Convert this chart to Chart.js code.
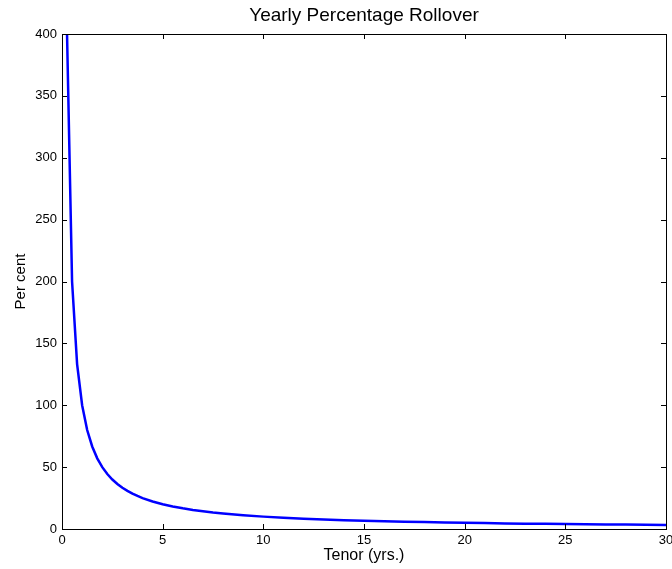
<!DOCTYPE html>
<html>
<head>
<meta charset="utf-8">
<script src="https://cdn.jsdelivr.net/npm/chart.js@4"></script>
<style>
  html, body { margin: 0; padding: 0; background: #fff; }
  #wrap { width: 672px; height: 569px; }
</style>
</head>
<body>
<div id="wrap"><canvas id="chart" width="672" height="569"></canvas></div>
<script>
// Tenor (years) and yearly rollover (per cent)
const tenors = [0.25, 0.5, 0.75, 1, 1.25, 1.5, 1.75, 2, 2.25, 2.5, 2.75, 3, 3.25, 3.5, 3.75, 4,
  4.5, 5, 5.5, 6, 6.5, 7, 7.5, 8, 9, 10, 11, 12, 13, 14, 15, 16, 17, 18, 19, 20,
  21, 22, 23, 24, 25, 26, 27, 28, 29, 30];
const rollover = [400, 200, 133.3, 100, 80, 66.7, 57.1, 50, 44.4, 40, 36.4, 33.3, 30.8, 28.6, 26.7, 25,
  22.2, 20, 18.2, 16.7, 15.4, 14.3, 13.3, 12.5, 11.1, 10, 9.1, 8.3, 7.7, 7.1, 6.7, 6.3, 5.9, 5.6, 5.3, 5,
  4.8, 4.5, 4.3, 4.2, 4, 3.8, 3.7, 3.6, 3.4, 3.3];
const xTicks = [0, 5, 10, 15, 20, 25, 30];
const yTicks = [0, 50, 100, 150, 200, 250, 300, 350, 400];

const FONT = "'Liberation Sans', Arial, Helvetica, sans-serif";

// Box around the plot with MATLAB style inward ticks
const boxPlugin = {
  id: 'box',
  afterDraw(chart) {
    const { ctx, chartArea: a, scales } = chart;
    const len = 5;
    ctx.save();
    ctx.strokeStyle = '#000';
    ctx.lineWidth = 1;
    ctx.beginPath();
    xTicks.forEach(v => {
      const x = Math.round(scales.x.getPixelForValue(v)) + 0.5;
      ctx.moveTo(x, a.bottom); ctx.lineTo(x, a.bottom - len);
      ctx.moveTo(x, a.top); ctx.lineTo(x, a.top + len);
    });
    yTicks.forEach(v => {
      const y = Math.round(scales.y.getPixelForValue(v)) + 0.5;
      ctx.moveTo(a.left, y); ctx.lineTo(a.left + len, y);
      ctx.moveTo(a.right, y); ctx.lineTo(a.right - len, y);
    });
    ctx.stroke();
    ctx.strokeRect(Math.round(a.left) + 0.5, Math.round(a.top) + 0.5,
      Math.round(a.right - a.left), Math.round(a.bottom - a.top));
    ctx.restore();
  }
};

const ctx = document.getElementById('chart').getContext('2d');
new Chart(ctx, {
  type: 'line',
  data: {
    datasets: [{
      label: 'Rollover',
      data: tenors.map((t, i) => ({ x: t, y: rollover[i] })),
      borderColor: '#0000ff',
      borderWidth: 2.5,
      tension: 0,
      pointRadius: 0,
      fill: false
    }]
  },
  options: {
    responsive: false,
    animation: false,
    layout: { padding: { right: 6, top: 0 } },
    plugins: {
      legend: { display: false },
      tooltip: { enabled: false },
      title: {
        display: true,
        text: 'Yearly Percentage Rollover',
        color: '#000',
        fullSize: false,
        font: { family: FONT, size: 19, weight: 'normal' },
        padding: { top: 4, bottom: 7.2 }
      }
    },
    scales: {
      x: {
        type: 'linear',
        min: 0, max: 30,
        afterBuildTicks: s => { s.ticks = xTicks.map(v => ({ value: v })); },
        afterFit: s => { s.height = 40; s.paddingRight = 0; s.paddingLeft = 0; },
        grid: { display: false, drawTicks: false },
        border: { display: false },
        ticks: { color: '#000', padding: 4, font: { family: FONT, size: 13 }, maxRotation: 0 },
        title: {
          display: true, text: 'Tenor (yrs.)', color: '#000',
          font: { family: FONT, size: 16 }, padding: { top: 0, bottom: 4 }
        }
      },
      y: {
        min: 0, max: 400,
        afterBuildTicks: s => { s.ticks = yTicks.map(v => ({ value: v })); },
        afterFit: s => { s.width = 62; },
        grid: { display: false, drawTicks: false },
        border: { display: false },
        ticks: { color: '#000', padding: 5, font: { family: FONT, size: 13 } },
        title: {
          display: true, text: 'Per cent', color: '#000',
          font: { family: FONT, size: 15 }, padding: { top: 12, bottom: 0 }
        }
      }
    }
  },
  plugins: [boxPlugin]
});
</script>
</body>
</html>
